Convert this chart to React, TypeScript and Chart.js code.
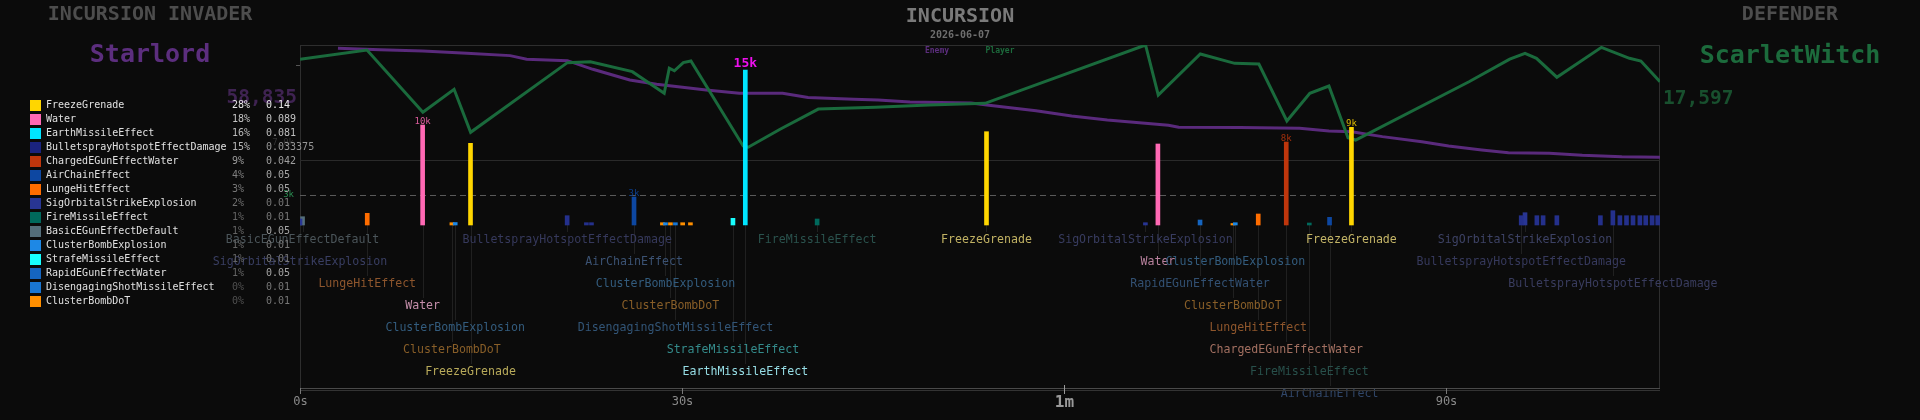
import React, { useEffect, useRef } from "react";
import { Chart, registerables } from "chart.js";
Chart.register(...registerables);

const FONT = '"DejaVu Sans Mono", monospace';
const BG = "#0b0b0b";

// ---- legend / damage types ----
const typeNames = [
  "FreezeGrenade", "Water", "EarthMissileEffect", "BulletsprayHotspotEffectDamage",
  "ChargedEGunEffectWater", "AirChainEffect", "LungeHitEffect", "SigOrbitalStrikeExplosion",
  "FireMissileEffect", "BasicEGunEffectDefault", "ClusterBombExplosion", "StrafeMissileEffect",
  "RapidEGunEffectWater", "DisengagingShotMissileEffect", "ClusterBombDoT",
];
const typeColors = [
  "#ffd600", "#ff69b4", "#00e5ff", "#1a237e", "#bf360c", "#0d47a1", "#ff6d00", "#283593",
  "#00695c", "#546e7a", "#1e88e5", "#18ffff", "#1565c0", "#1976d2", "#ff8f00",
];
const typePct = [28, 18, 16, 15, 9, 4, 3, 2, 1, 1, 1, 1, 1, 0, 0];
const typeValue = ["0.14", "0.089", "0.081", "0.033375", "0.042", "0.05", "0.05", "0.01", "0.01", "0.05", "0.01", "0.01", "0.05", "0.01", "0.01"];

// ---- health lines (seconds, % of scale) ----
const enemyTime = [2.98, 6.28, 9.65, 13.1, 16.5, 17.8, 21.0, 23.0, 25.9, 28.0, 31.9, 34.5, 37.9, 39.9, 43.5, 45.4, 47.9, 52.7, 54.1, 57.8, 60.6, 63.4, 68.2, 69.0, 73.8, 78.5, 80.8, 82.6, 85.0, 88.1, 90.2, 92.8, 94.9, 98.1, 100.7, 103.8, 106.8];
const enemyHp = [98.2, 97.4, 96.7, 95.4, 94.1, 92.1, 91.3, 86.5, 80.6, 78.2, 75.0, 73.2, 73.2, 70.9, 69.8, 69.4, 68.3, 67.8, 66.5, 63.5, 60.6, 58.3, 55.4, 54.3, 54.1, 53.7, 52.2, 51.8, 49.1, 46.3, 43.9, 41.7, 40.2, 39.8, 38.7, 37.9, 37.6];
const playerTime = [0, 5.26, 9.65, 12.1, 13.4, 21.0, 22.8, 26.1, 28.6, 29.0, 29.4, 30.1, 30.7, 34.8, 35.2, 37.7, 40.7, 45.2, 49.4, 53.8, 66.4, 67.4, 70.7, 73.4, 75.3, 77.5, 79.3, 80.8, 82.3, 82.9, 91.8, 95.0, 96.2, 97.1, 98.7, 102.2, 104.4, 105.3, 106.8];
const playerHp = [92.1, 97.2, 62.6, 75.4, 51.5, 90.2, 90.7, 85.2, 73.2, 87.1, 85.7, 90.2, 91.1, 43.9, 43.2, 53.2, 64.4, 65.4, 66.7, 67.6, 100, 72.2, 95, 89.8, 89.4, 57.8, 73.2, 77.2, 48.5, 47.2, 79.6, 92.1, 95.4, 92.6, 82.1, 98.7, 92.6, 91.1, 79.6];

// ---- damage events ----
const eventTime = [0.0, 0.2, 5.28, 9.63, 11.93, 12.19, 13.39, 20.98, 22.49, 22.89, 26.23, 28.46, 28.7, 29.09, 29.48, 30.05, 30.66, 34.0, 34.97, 40.61, 53.91, 66.39, 67.37, 70.68, 73.26, 73.45, 75.25, 77.45, 79.26, 80.85, 82.57, 95.9, 96.2, 97.13, 97.62, 98.7, 102.12, 103.1, 103.65, 104.17, 104.68, 105.22, 105.68, 106.18, 106.62];
const eventType = [7, 9, 6, 1, 14, 10, 0, 3, 3, 3, 5, 14, 10, 14, 13, 14, 14, 11, 2, 8, 0, 7, 1, 12, 14, 10, 6, 4, 8, 5, 0, 3, 7, 3, 3, 3, 3, 3, 3, 3, 3, 3, 3, 3, 3];
const eventDamage = [600, 830, 1170, 10000, 230, 250, 8170, 930, 230, 230, 2800, 230, 230, 230, 230, 230, 230, 670, 15500, 600, 9330, 230, 8100, 500, 150, 230, 1100, 8300, 200, 770, 9770, 930, 1230, 930, 930, 930, 930, 1430, 930, 930, 930, 930, 930, 930, 930];
const eventLane = [2, 1, 3, 4, 6, 5, 7, 1, 0, 0, 2, 0, 3, 4, 5, 0, 0, 6, 7, 1, 1, 1, 2, 3, 4, 2, 5, 6, 7, 8, 1, 2, 1, 0, 0, 0, 0, 3, 0, 0, 0, 0, 0, 0, 0];
const peakEvent = [3, 10, 18, 27, 30];
const peakText = ["10k", "3k", "15k", "8k", "9k"];

const xTickValues = [0, 30, 60, 90];
const xTickLabels = ["0s", "30s", "1m", "90s"];

function hexRgb(h: string) {
  const n = parseInt(h.slice(1), 16);
  return [(n >> 16) & 255, (n >> 8) & 255, n & 255];
}
function mix(a: string, b: string, t: number) {
  const A = hexRgb(a), B = hexRgb(b);
  const c = A.map((v, i) => Math.round(v + (B[i] - v) * t));
  return "#" + c.map((v) => v.toString(16).padStart(2, "0")).join("");
}
function labelColor(col: string, dmg: number) {
  const t = Math.min(1, dmg / 15000);
  const base = mix(col, "#aaaaaa", 0.35);
  const light = mix(base, "#ffffff", 0.5 * t);
  return mix(BG, light, 0.58 + 0.37 * t);
}
function grayLevel(v: number) {
  const g = Math.round(Math.max(0, Math.min(255, v)));
  const h = g.toString(16).padStart(2, "0");
  return "#" + h + h + h;
}

const LANE_Y0 = 240;
const LANE_STEP = 22;

const overlay = {
  id: "overlay",
  beforeDraw(chart: any) {
    const ctx = chart.ctx;
    ctx.save();
    ctx.fillStyle = BG;
    ctx.fillRect(0, 0, chart.width, chart.height);
    ctx.restore();
  },
  beforeDatasetsDraw(chart: any) {
    const ctx = chart.ctx;
    const { left, right, top, bottom } = chart.chartArea;
    const x = chart.scales.x;
    const d = chart.scales.dmg;
    ctx.save();
    ctx.strokeStyle = "#2e2e2e";
    ctx.lineWidth = 1;
    ctx.beginPath();
    ctx.moveTo(left, top + 0.5); ctx.lineTo(right, top + 0.5);
    ctx.moveTo(left + 0.5, top); ctx.lineTo(left + 0.5, bottom);
    ctx.moveTo(right - 0.5, top); ctx.lineTo(right - 0.5, bottom);
    ctx.stroke();
    const gy = Math.round(d.getPixelForValue(6500)) + 0.5;
    ctx.strokeStyle = "#2a2a2a";
    ctx.beginPath(); ctx.moveTo(left, gy); ctx.lineTo(right, gy); ctx.stroke();
    const dy = Math.round(d.getPixelForValue(3000)) + 0.5;
    ctx.strokeStyle = "#5a5a5a";
    ctx.setLineDash([6, 4]);
    ctx.beginPath(); ctx.moveTo(left, dy); ctx.lineTo(right, dy); ctx.stroke();
    ctx.setLineDash([]);
    const base = d.getPixelForValue(0);
    ctx.strokeStyle = "#202020";
    eventTime.forEach((t, i) => {
      const lane = eventLane[i];
      if (!lane) return;
      const px = Math.round(x.getPixelForValue(t)) + 0.5;
      const ly = LANE_Y0 + (lane - 1) * LANE_STEP - 8;
      ctx.beginPath(); ctx.moveTo(px, base); ctx.lineTo(px, ly); ctx.stroke();
    });
    ctx.strokeStyle = "#555";
    ctx.beginPath(); ctx.moveTo(left - 4, 65.5); ctx.lineTo(left, 65.5); ctx.stroke();
    ctx.restore();
  },
  afterDatasetsDraw(chart: any) {
    const ctx = chart.ctx;
    const { left, right, bottom } = chart.chartArea;
    const x = chart.scales.x;
    const d = chart.scales.dmg;
    ctx.save();
    ctx.textAlign = "center";
    ctx.textBaseline = "middle";
    ctx.font = `11.6px ${FONT}`;
    eventTime.forEach((t, i) => {
      const lane = eventLane[i];
      if (!lane) return;
      const px = x.getPixelForValue(t);
      const ty = eventType[i];
      ctx.fillStyle = labelColor(typeColors[ty], eventDamage[i]);
      ctx.fillText(typeNames[ty], px, LANE_Y0 + (lane - 1) * LANE_STEP);
    });
    const maxDmg = Math.max(...eventDamage);
    peakEvent.forEach((ei, k) => {
      const px = x.getPixelForValue(eventTime[ei]);
      const py = d.getPixelForValue(eventDamage[ei]);
      const big = eventDamage[ei] === maxDmg;
      ctx.font = big ? `bold 13px ${FONT}` : `9px ${FONT}`;
      ctx.fillStyle = big ? "#ee10ee" : mix(BG, typeColors[eventType[ei]], 0.85);
      ctx.fillText(peakText[k], px, py - (big ? 6 : 3.5));
    });
    ctx.strokeStyle = "#4a4a4a";
    ctx.lineWidth = 1;
    ctx.beginPath(); ctx.moveTo(left, bottom - 0.5); ctx.lineTo(right, bottom - 0.5); ctx.stroke();
    ctx.strokeStyle = "#333";
    ctx.beginPath(); ctx.moveTo(left, bottom + 1.5); ctx.lineTo(right, bottom + 1.5); ctx.stroke();
    xTickValues.forEach((v, i) => {
      const px = Math.round(x.getPixelForValue(v)) + 0.5;
      const major = xTickLabels[i].endsWith("m");
      ctx.strokeStyle = major ? "#9a9a9a" : "#777";
      ctx.beginPath(); ctx.moveTo(px, major ? bottom - 4 : bottom - 1); ctx.lineTo(px, bottom + 5); ctx.stroke();
      ctx.fillStyle = major ? "#9a9a9a" : "#8a8a8a";
      ctx.font = major ? `bold 16px ${FONT}` : `12px ${FONT}`;
      ctx.fillText(xTickLabels[i], px, major ? bottom + 14 : bottom + 13);
    });
    ctx.textAlign = "right";
    ctx.font = `9px ${FONT}`;
    ctx.fillStyle = "#333";
    ctx.fillText("7.0k", left - 6, 143);
    ctx.fillStyle = "#2a8a50";
    ctx.fillText("3k", left - 6, d.getPixelForValue(3000));

    ctx.textAlign = "center";
    ctx.font = `bold 20px ${FONT}`;
    ctx.fillStyle = "#4d4d4d";
    ctx.fillText("INCURSION INVADER", 150, 15);
    ctx.fillText("DEFENDER", 1790, 15);
    ctx.fillStyle = "#7a7a7a";
    ctx.fillText("INCURSION", 960, 17);
    ctx.font = `bold 10px ${FONT}`;
    ctx.fillStyle = "#6e6e6e";
    ctx.fillText("2026-06-07", 960, 35);
    ctx.font = `bold 8px ${FONT}`;
    ctx.fillStyle = "#5c2e7e";
    ctx.fillText("Enemy", 937, 51);
    ctx.fillStyle = "#1c6b3c";
    ctx.fillText("Player", 1000, 51);
    ctx.font = `bold 25px ${FONT}`;
    ctx.fillStyle = "#5c2e7e";
    ctx.fillText("Starlord", 150, 55);
    ctx.fillStyle = "#1c6b3c";
    ctx.fillText("ScarletWitch", 1790, 56);
    ctx.font = `bold 19.5px ${FONT}`;
    ctx.textAlign = "right";
    ctx.fillStyle = "#3f2352";
    ctx.fillText("58,835", 297, 98);
    ctx.textAlign = "left";
    ctx.fillStyle = "#18502e";
    ctx.fillText("17,597", 1663, 99);

    ctx.font = `10px ${FONT}`;
    typeNames.forEach((name, i) => {
      const y = 105.5 + i * 14;
      ctx.fillStyle = typeColors[i];
      ctx.fillRect(30, Math.round(y - 5.5), 11, 11);
      ctx.fillStyle = "#e0e0e0";
      ctx.textAlign = "left";
      ctx.fillText(name, 46, y);
      ctx.fillStyle = grayLevel(80 + 150 * Math.pow(Math.min(1, typePct[i] / 28), 0.6));
      ctx.fillText(typePct[i] + "%", 232, y);
      ctx.fillStyle = grayLevel(90 + 140 * Math.pow(Math.min(1, parseFloat(typeValue[i]) / 0.14), 0.6));
      ctx.fillText(typeValue[i], 266, y);
    });
    ctx.restore();
  },
};

export default function App() {
  const ref = useRef<HTMLCanvasElement | null>(null);
  useEffect(() => {
    if (!ref.current) return;
    const barSets = typeNames.map((name, ti) => ({
      type: "bar" as const,
      label: name,
      yAxisID: "dmg",
      order: 0,
      grouped: false,
      barThickness: 4,
      backgroundColor: ti === 3 ? "#24308c" : typeColors[ti],
      borderWidth: 0,
      data: eventTime
        .map((t, i) => ({ x: t, y: eventDamage[i], ty: eventType[i] }))
        .filter((p) => p.ty === ti)
        .map((p) => ({ x: p.x, y: p.y })),
    }));
    const chart = new Chart(ref.current, {
      type: "bar",
      data: {
        datasets: [
          {
            type: "line" as const,
            label: "Enemy",
            yAxisID: "hp",
            order: 2,
            borderColor: "#5a2a7c",
            borderWidth: 3,
            pointRadius: 0,
            tension: 0,
            data: enemyTime.map((t, i) => ({ x: t, y: enemyHp[i] })),
          },
          {
            type: "line" as const,
            label: "Player",
            yAxisID: "hp",
            order: 1,
            borderColor: "#1a6a3c",
            borderWidth: 3,
            pointRadius: 0,
            tension: 0,
            data: playerTime.map((t, i) => ({ x: t, y: playerHp[i] })),
          },
          ...barSets,
        ] as any,
      },
      options: {
        responsive: false,
        animation: false,
        devicePixelRatio: 1,
        layout: { padding: { left: 300, right: 260, top: 45, bottom: 31 } },
        plugins: { legend: { display: false }, tooltip: { enabled: false } },
        scales: {
          x: { type: "linear", min: 0, max: 106.8, offset: false, display: false },
          dmg: { type: "linear", min: -16400, max: 18000, display: false },
          hp: { type: "linear", min: -91.11, max: 100, display: false },
        },
      } as any,
      plugins: [overlay],
    });
    return () => chart.destroy();
  }, []);
  return (
    <div style={{ position: "fixed", left: 0, top: 0, width: 1920, height: 420, background: BG }}>
      <canvas ref={ref} width={1920} height={420} style={{ display: "block" }} />
    </div>
  );
}
